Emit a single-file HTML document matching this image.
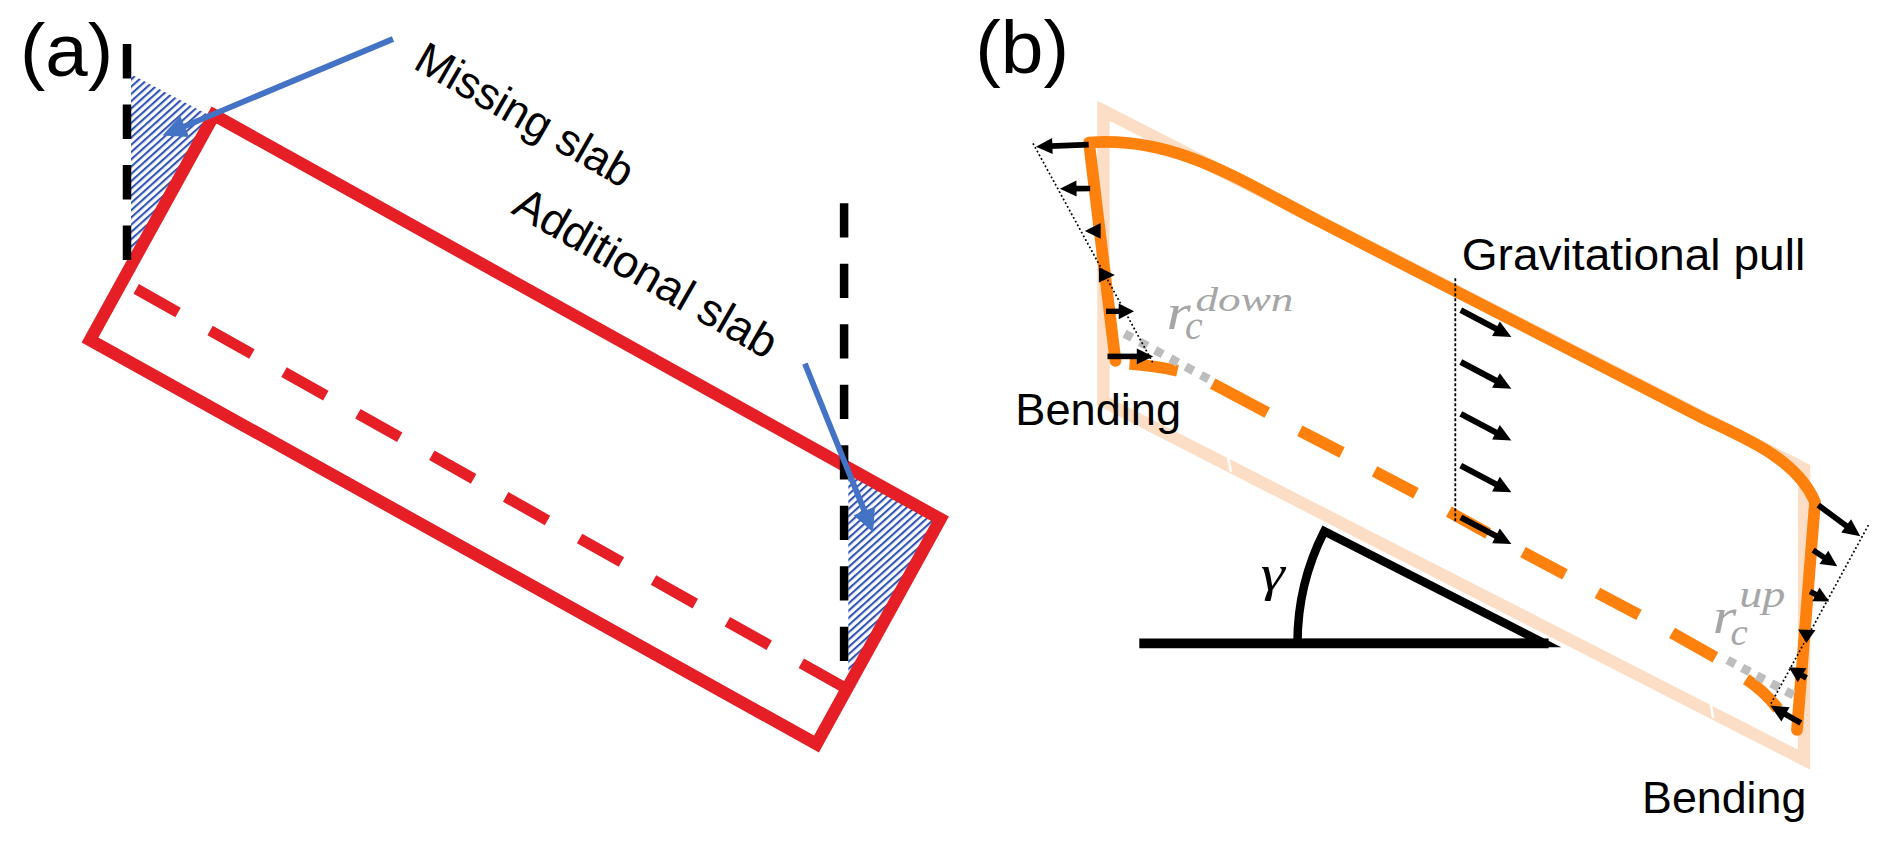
<!DOCTYPE html>
<html><head><meta charset="utf-8"><style>
html,body{margin:0;padding:0;background:#fff;}
svg{display:block;}
</style></head><body>
<svg width="1892" height="847" viewBox="0 0 1892 847">
<rect width="1892" height="847" fill="#fff"/>
<defs>
<pattern id="hatch" patternUnits="userSpaceOnUse" width="5.4" height="5.4" patternTransform="rotate(-42)">
<rect x="0" y="0" width="5.4" height="2.1" fill="#3054b4"/>
</pattern>
</defs>
<polygon points="131,74.2 214,117.7 131,265.6" fill="url(#hatch)"/>
<polygon points="848.3,467.5 940.5,519 848.3,686.8" fill="url(#hatch)"/>
<polygon points="214,115 940.5,519 816.5,744 90,340" fill="none" stroke="#e61f26" stroke-width="12.4" stroke-linejoin="miter"/>
<line x1="136.2" y1="288.9" x2="846.8" y2="688.9" stroke="#e61f26" stroke-width="11" stroke-dasharray="48 36.8"/>
<line x1="127" y1="44" x2="127" y2="260" stroke="#000" stroke-width="8.5" stroke-dasharray="34.5 26"/>
<line x1="844.1" y1="203.2" x2="844.1" y2="661" stroke="#000" stroke-width="8.5" stroke-dasharray="34.2 26.3"/>
<line x1="393.0" y1="39.0" x2="182.8" y2="127.1" stroke="#4472c4" stroke-width="5.8"/><polygon points="162.5,135.6 180.2,115.7 189.1,136.9" fill="#4472c4"/>
<line x1="804.9" y1="363.6" x2="865.1" y2="512.7" stroke="#4472c4" stroke-width="5.8"/><polygon points="873.0,532.2 853.7,515.2 875.0,506.6" fill="#4472c4"/>
<polygon points="1103.45,110.7 1804.05,468.7 1804.05,759.6 1103.45,401.6" fill="none" stroke="#fcdec6" stroke-width="12.3" stroke-linejoin="miter"/>
<line x1="1228" y1="458" x2="1231" y2="472" stroke="#fff" stroke-width="2.5"/>
<line x1="1711" y1="704" x2="1713" y2="718" stroke="#fff" stroke-width="2.5"/>
<line x1="1139.3" y1="643.4" x2="1548.6" y2="643.4" stroke="#000" stroke-width="9.6"/>
<path d="M1297.5,642.9 L1543.5,642.9 L1324.3,531.2 A246,246 0 0 0 1297.5,642.9 Z" fill="none" stroke="#000" stroke-width="8.5" stroke-linejoin="miter" stroke-miterlimit="10"/>
<path d="M1115.5,361 L1089,142.5 C1175,135.6 1240,180.4 1320,221.6 L1700,416.5 C1734.7,434.3 1795.1,455.1 1815,502 L1797,730" fill="none" stroke="#fd810c" stroke-width="11.7" stroke-linecap="round" stroke-linejoin="round"/>
<path d="M1129.5,364 Q1154,365.5 1177.5,370.8" fill="none" stroke="#fd810c" stroke-width="11.7"/>
<line x1="1212.7" y1="383.7" x2="1267.3" y2="412.6" stroke="#fd810c" stroke-width="11.7"/>
<line x1="1299.8" y1="430.8" x2="1342" y2="452.5" stroke="#fd810c" stroke-width="11.7"/>
<line x1="1374.5" y1="471.4" x2="1416" y2="493.2" stroke="#fd810c" stroke-width="11.7"/>
<line x1="1448.8" y1="511.7" x2="1488.1" y2="533.4" stroke="#fd810c" stroke-width="11.7"/>
<line x1="1523" y1="552.1" x2="1565" y2="574.3" stroke="#fd810c" stroke-width="11.7"/>
<line x1="1597.4" y1="592.8" x2="1639" y2="614.9" stroke="#fd810c" stroke-width="11.7"/>
<line x1="1672" y1="632.8" x2="1715.4" y2="657.4" stroke="#fd810c" stroke-width="11.7"/>
<path d="M1746.2,679.2 Q1764,691 1778,708.8" fill="none" stroke="#fd810c" stroke-width="11.7"/>
<line x1="1124.5" y1="333.6" x2="1208.6" y2="379.1" stroke="#bdbdbd" stroke-width="8.7" stroke-dasharray="8.7 8.69"/>
<line x1="1727.5" y1="660.0" x2="1793.5" y2="695.2" stroke="#bdbdbd" stroke-width="8.7" stroke-dasharray="8.7 7.85"/>
<line x1="1033" y1="143.4" x2="1153.2" y2="363.3" stroke="#000" stroke-width="1.7" stroke-dasharray="1.8 2.4"/>
<line x1="1868.4" y1="525.1" x2="1770.3" y2="704.9" stroke="#000" stroke-width="1.7" stroke-dasharray="1.8 2.4"/>
<line x1="1455.3" y1="278.3" x2="1455.3" y2="523.2" stroke="#000" stroke-width="1.8" stroke-dasharray="3 2"/>
<line x1="1088.7" y1="144.6" x2="1050.4" y2="146.1" stroke="#000" stroke-width="5.6"/><polygon points="1035.9,146.7 1052.1,138.1 1052.7,154.0" fill="#000"/>
<line x1="1090.2" y1="188.5" x2="1074.5" y2="188.6" stroke="#000" stroke-width="5.6"/><polygon points="1059.9,188.7 1076.4,180.6 1076.6,196.6" fill="#000"/>
<polygon points="1084.8,230.9 1100.7,223.0 1100.7,238.8" fill="#000"/>
<polygon points="1114.9,274.9 1098.9,282.5 1098.9,267.2" fill="#000"/>
<line x1="1106.0" y1="311.3" x2="1120.7" y2="311.3" stroke="#000" stroke-width="5.4"/><polygon points="1134.1,311.3 1118.7,319.2 1118.7,303.4" fill="#000"/>
<line x1="1107.5" y1="356.4" x2="1138.8" y2="356.4" stroke="#000" stroke-width="5.6"/><polygon points="1153.2,356.4 1136.8,364.3 1136.8,348.5" fill="#000"/>
<line x1="1818.2" y1="505.1" x2="1847.8" y2="527.0" stroke="#000" stroke-width="5.8"/><polygon points="1860.3,536.2 1841.3,532.4 1851.1,519.2" fill="#000"/>
<line x1="1813.1" y1="550.2" x2="1825.6" y2="558.5" stroke="#000" stroke-width="5.6"/><polygon points="1837.2,566.3 1819.5,564.1 1828.3,550.8" fill="#000"/>
<line x1="1810.1" y1="591.4" x2="1817.7" y2="595.4" stroke="#000" stroke-width="5.6"/><polygon points="1829.2,601.4 1812.3,601.3 1819.5,587.6" fill="#000"/>
<polygon points="1806.4,643.1 1798.0,629.5 1815.5,629.9" fill="#000"/>
<line x1="1806.5" y1="678.0" x2="1800.4" y2="674.3" stroke="#000" stroke-width="5.6"/><polygon points="1788.9,667.2 1806.4,668.3 1797.8,682.3" fill="#000"/>
<line x1="1800.8" y1="723.1" x2="1783.7" y2="713.3" stroke="#000" stroke-width="5.8"/><polygon points="1770.3,705.6 1789.6,707.2 1781.4,721.5" fill="#000"/>
<line x1="1460.8" y1="310.2" x2="1497.7" y2="329.7" stroke="#000" stroke-width="6"/><polygon points="1511.4,336.9 1492.1,336.0 1499.8,321.4" fill="#000"/>
<line x1="1460.8" y1="362.0" x2="1497.7" y2="381.5" stroke="#000" stroke-width="6"/><polygon points="1511.4,388.7 1492.1,387.8 1499.8,373.2" fill="#000"/>
<line x1="1460.8" y1="413.8" x2="1497.7" y2="433.3" stroke="#000" stroke-width="6"/><polygon points="1511.4,440.5 1492.1,439.6 1499.8,425.0" fill="#000"/>
<line x1="1460.8" y1="465.6" x2="1497.7" y2="485.1" stroke="#000" stroke-width="6"/><polygon points="1511.4,492.3 1492.1,491.4 1499.8,476.8" fill="#000"/>
<line x1="1460.8" y1="517.4" x2="1497.7" y2="536.9" stroke="#000" stroke-width="6"/><polygon points="1511.4,544.1 1492.1,543.2 1499.8,528.6" fill="#000"/>
<text transform="translate(19.92,75.71) scale(0.7627,0.7426)" font-family="&quot;Liberation Sans&quot;, sans-serif" font-style="normal" font-size="100" fill="#000">(a)</text>
<text transform="translate(975.19,72.96) scale(0.7682,0.7351)" font-family="&quot;Liberation Sans&quot;, sans-serif" font-style="normal" font-size="100" fill="#000">(b)</text>
<text transform="translate(1461.69,270.21) scale(0.4614,0.4521)" font-family="&quot;Liberation Sans&quot;, sans-serif" font-style="normal" font-size="100" fill="#000">Gravitational pull</text>
<text transform="translate(1015.29,424.91) scale(0.4518,0.4521)" font-family="&quot;Liberation Sans&quot;, sans-serif" font-style="normal" font-size="100" fill="#000">Bending</text>
<text transform="translate(1642.02,812.73) scale(0.4479,0.4511)" font-family="&quot;Liberation Sans&quot;, sans-serif" font-style="normal" font-size="100" fill="#000">Bending</text>
<text transform="translate(1166.61,329.00) scale(0.6229,0.4979)" font-family="&quot;Liberation Serif&quot;, serif" font-style="italic" font-size="100" fill="#a6a6a6">r</text>
<text transform="translate(1184.91,339.19) scale(0.3975,0.4083)" font-family="&quot;Liberation Serif&quot;, serif" font-style="italic" font-size="100" fill="#a6a6a6">c</text>
<text transform="translate(1195.44,310.85) scale(0.4522,0.3457)" font-family="&quot;Liberation Serif&quot;, serif" font-style="italic" font-size="100" fill="#a6a6a6">down</text>
<text transform="translate(1712.67,633.10) scale(0.6086,0.5021)" font-family="&quot;Liberation Serif&quot;, serif" font-style="italic" font-size="100" fill="#a6a6a6">r</text>
<text transform="translate(1730.43,644.92) scale(0.3900,0.3833)" font-family="&quot;Liberation Serif&quot;, serif" font-style="italic" font-size="100" fill="#a6a6a6">c</text>
<text transform="translate(1739.19,606.95) scale(0.4620,0.3691)" font-family="&quot;Liberation Serif&quot;, serif" font-style="italic" font-size="100" fill="#a6a6a6">up</text>
<text transform="translate(1260.68,590.33) scale(0.6100,0.4985)" font-family="&quot;Liberation Serif&quot;, serif" font-style="italic" font-size="100" fill="#000">γ</text>
<text transform="translate(414.9,69) rotate(29.9) translate(-3.54,0.19) scale(0.4428,0.4479)" font-family="&quot;Liberation Sans&quot;, sans-serif" font-style="normal" font-size="100" fill="#000">Missing slab</text>
<text transform="translate(509.9,212.6) rotate(29.85) translate(0.00,-0.01) scale(0.4546,0.4546)" font-family="&quot;Liberation Sans&quot;, sans-serif" font-style="normal" font-size="100" fill="#000">Additional slab</text>
</svg>
</body></html>
